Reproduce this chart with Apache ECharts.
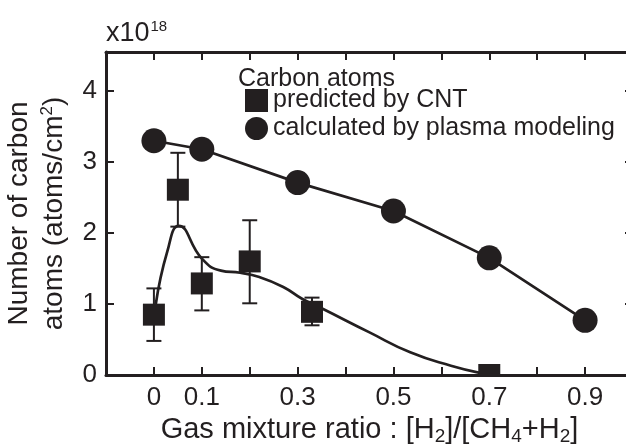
<!DOCTYPE html>
<html>
<head>
<meta charset="utf-8">
<script src="https://cdn.jsdelivr.net/npm/echarts@6/dist/echarts.min.js"></script>
<style>
  html, body { margin: 0; padding: 0; background: #fff; }
  #chart { width: 626px; height: 445px; }
</style>
</head>
<body>
<div id="chart"></div>
<script>
// 数据 (x = [H2]/[CH4+H2], y in 1e18 atoms/cm2)
var plasmaX = [0, 0.1, 0.3, 0.5, 0.7, 0.9];
var plasmaY = [3.30, 3.18, 2.71, 2.31, 1.65, 0.77];

var cntX = [0, 0.05, 0.1, 0.2, 0.33, 0.7];
var cntY = [0.85, 2.61, 1.29, 1.60, 0.89, 0];
var cntLow = [0.48, 2.09, 0.91, 1.01, 0.70, null];
var cntHigh = [1.22, 3.13, 1.66, 2.18, 1.09, null];

// 拟合曲线
var fitX = [0.004, 0.028, 0.052, 0.1, 0.14, 0.18, 0.22, 0.27, 0.31, 0.35, 0.45, 0.535, 0.62, 0.68];
var fitY = [1.0, 1.74, 2.1, 1.64, 1.47, 1.44, 1.38, 1.24, 1.07, 0.94, 0.6, 0.32, 0.13, 0.03];

var xLabels = [0, 0.1, 0.3, 0.5, 0.7, 0.9];

var ink = '#231f20';
var font = 'Liberation Sans, Arial, sans-serif';

function pairs(xs, ys) {
  return xs.map(function (x, i) { return [x, ys[i]]; });
}

var cntData = pairs(cntX, cntY).map(function (p) {
  // 最后一个点被坐标轴裁掉一半
  if (p[1] <= 0.01) {
    return { value: p, symbol: 'path://M0 0H10V5H0Z', symbolSize: [22, 11], symbolOffset: [0, -5.5] };
  }
  return p;
});

var errData = [];
cntX.forEach(function (x, i) {
  if (cntLow[i] != null) errData.push([x, cntLow[i], cntHigh[i]]);
});

var chart = echarts.init(document.getElementById('chart'));

var option = {
  animation: false,
  textStyle: { fontFamily: font, color: ink },
  grid: { left: 106, top: 52, width: 527, height: 323, outerBoundsMode: 'none', containLabel: false },
  legend: {
    orient: 'vertical',
    left: 245,
    top: 88,
    padding: 0,
    itemWidth: 23,
    itemHeight: 23,
    itemGap: 3,
    selectedMode: false,
    textStyle: { fontSize: 25, lineHeight: 24, color: ink, fontFamily: font },
    data: [
      { name: 'predicted by CNT', icon: 'rect' },
      { name: 'calculated by plasma modeling', icon: 'circle' }
    ]
  },
  graphic: [
    {
      type: 'text', left: 106, top: 19,
      style: {
        text: 'x10{sup|18}', fontSize: 27, fontFamily: font, fill: ink,
        rich: { sup: { fontSize: 15, fontFamily: font, fill: ink, verticalAlign: 'top', padding: [0, 0, 14, 1] } }
      }
    },
    {
      type: 'text', left: 238, top: 67,
      style: { text: 'Carbon atoms', fontSize: 25, fontFamily: font, fill: ink }
    }
  ],
  xAxis: [
    {
      type: 'value', min: -0.1, max: 1.0, interval: 0.1,
      position: 'bottom',
      name: 'Gas mixture ratio : [H{sub|2}]/[CH{sub|4}+H{sub|2}]',
      nameLocation: 'middle',
      nameGap: 31,
      nameTextStyle: {
        fontSize: 29, color: ink, fontFamily: font,
        rich: { sub: { fontSize: 19, color: ink, fontFamily: font, padding: [13, 0, 0, 0] } }
      },
      axisLine: { onZero: false, lineStyle: { color: ink, width: 3 } },
      axisTick: { inside: true, length: 8, lineStyle: { color: ink, width: 2 } },
      splitLine: { show: false },
      axisLabel: {
        fontSize: 26, color: ink, margin: 10, fontFamily: font,
        formatter: function (v) {
          var k = Math.round(v * 10) / 10;
          return xLabels.indexOf(k) >= 0 ? String(k) : '';
        }
      }
    },
    {
      type: 'value', min: -0.1, max: 1.0, interval: 0.1,
      position: 'top',
      axisLine: { onZero: false, lineStyle: { color: ink, width: 3 } },
      axisTick: { inside: true, length: 8, lineStyle: { color: ink, width: 2 } },
      axisLabel: { show: false },
      splitLine: { show: false }
    }
  ],
  yAxis: [
    {
      type: 'value', min: 0, max: 4.55, interval: 1,
      position: 'left',
      name: 'Number of carbon\natoms (atoms/cm{sup|2})',
      nameLocation: 'middle',
      nameRotate: 90,
      nameGap: 24,
      nameTextStyle: {
        fontSize: 28, color: ink, fontFamily: font, lineHeight: 35,
        rich: { sup: { fontSize: 17, color: ink, fontFamily: font, padding: [0, 0, 14, 0] } }
      },
      axisLine: { onZero: false, lineStyle: { color: ink, width: 3 } },
      axisTick: { inside: true, length: 8, lineStyle: { color: ink, width: 2 } },
      splitLine: { show: false },
      axisLabel: {
        fontSize: 26, color: ink, margin: 9, fontFamily: font,
        formatter: function (v) { return v % 1 === 0 ? String(v) : ''; }
      }
    },
    {
      type: 'value', min: 0, max: 4.55, interval: 1,
      position: 'right',
      axisLine: { onZero: false, lineStyle: { color: ink, width: 3 } },
      axisTick: { inside: true, length: 8, lineStyle: { color: ink, width: 2 } },
      axisLabel: { show: false },
      splitLine: { show: false }
    }
  ],
  series: [
    {
      name: 'fit',
      type: 'line',
      smooth: 0.5,
      showSymbol: false,
      silent: true,
      lineStyle: { color: ink, width: 2.7 },
      data: pairs(fitX, fitY),
      z: 2
    },
    {
      name: 'error',
      type: 'custom',
      silent: true,
      z: 1,
      renderItem: function (params, api) {
        var x = api.value(0);
        var lo = api.coord([x, api.value(1)]);
        var hi = api.coord([x, api.value(2)]);
        var w = 7.5;
        var st = { stroke: ink, lineWidth: 2 };
        return {
          type: 'group',
          children: [
            { type: 'line', shape: { x1: lo[0], y1: lo[1], x2: hi[0], y2: hi[1] }, style: st },
            { type: 'line', shape: { x1: lo[0] - w, y1: lo[1], x2: lo[0] + w, y2: lo[1] }, style: st },
            { type: 'line', shape: { x1: hi[0] - w, y1: hi[1], x2: hi[0] + w, y2: hi[1] }, style: st }
          ]
        };
      },
      encode: { x: 0, y: [1, 2] },
      data: errData
    },
    {
      name: 'predicted by CNT',
      type: 'scatter',
      symbol: 'rect',
      symbolSize: 22,
      itemStyle: { color: ink, opacity: 1 },
      data: cntData,
      z: 3
    },
    {
      name: 'calculated by plasma modeling',
      type: 'line',
      symbol: 'circle',
      symbolSize: 25,
      showAllSymbol: true,
      itemStyle: { color: ink, opacity: 1 },
      lineStyle: { color: ink, width: 2.7 },
      data: pairs(plasmaX, plasmaY),
      z: 3
    }
  ]
};

chart.setOption(option);
</script>
</body>
</html>
